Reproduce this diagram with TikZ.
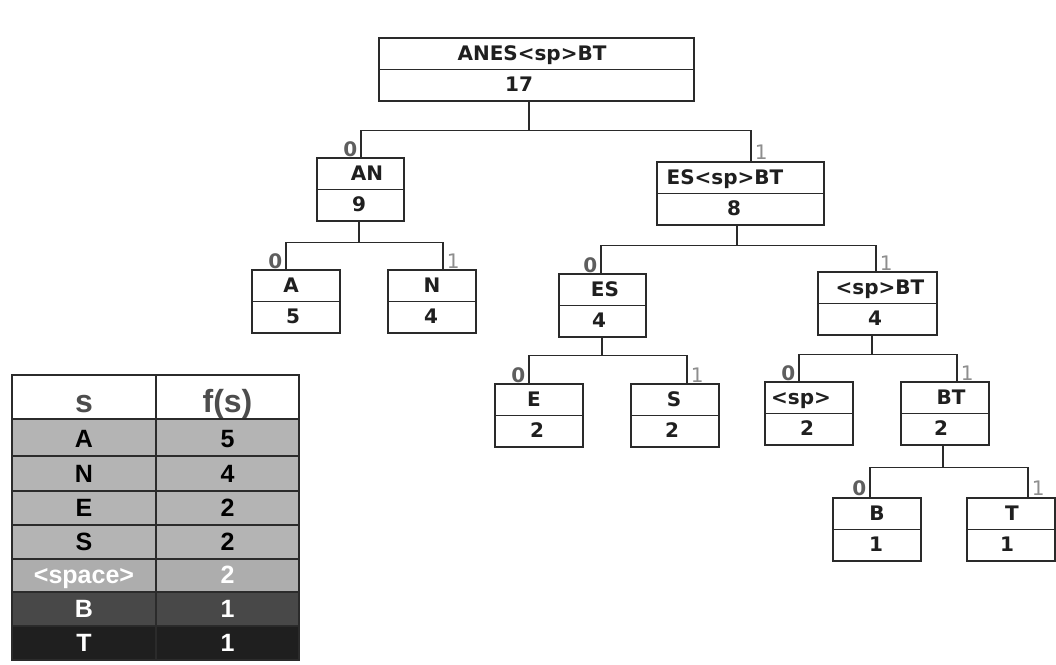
\documentclass[tikz,border=0pt]{standalone}
\usepackage{fontspec}
\newfontfamily\treefont{DejaVu Sans}
\newfontfamily\tabfont{Liberation Sans}

\definecolor{linegray}{HTML}{2A2A2A}
\definecolor{zerogray}{HTML}{5E5E5E}
\definecolor{onegray}{HTML}{8E8E8E}
\definecolor{rowlight}{HTML}{B4B4B4}
\definecolor{rowmid}{HTML}{ADADAD}
\definecolor{rowdark}{HTML}{484848}
\definecolor{rowblack}{HTML}{1F1F1F}
\definecolor{gridline}{HTML}{2B2B2B}
\definecolor{headtext}{HTML}{4D4D4D}

\tikzset{
  cell/.style={draw=linegray, line width=1.5pt, fill=white, inner sep=0pt,
               minimum height=63pt},
  link/.style={draw=linegray, line width=1.5pt},
  txt/.style={anchor=base, inner sep=0pt, text=black!88,
              font=\treefont\bfseries\fontsize{20}{20}\selectfont},
  bit0/.style={inner sep=3pt, text=zerogray,
               font=\treefont\bfseries\fontsize{20}{20}\selectfont},
  bit1/.style={inner sep=3pt, text=onegray,
               font=\treefont\fontsize{20}{20}\selectfont},
  gridrule/.style={draw=gridline, line width=1.6pt},
  headtxt/.style={anchor=base, inner sep=0pt, text=headtext,
                  font=\tabfont\bfseries\fontsize{32}{32}\selectfont},
  tabtxt/.style={anchor=base, inner sep=0pt,
                 font=\tabfont\bfseries\fontsize{25}{25}\selectfont},
}

% tree cell: name, centre x, top y, width, symbol text, its x, weight, its x
\newcommand\hcell[8]{%
  \node[cell, minimum width=#4pt, anchor=north] (#1) at (#2,#3) {};
  \draw[link] (#1.west) -- (#1.east);
  \node[txt] (#1-l) at (#6,{#3+23.5}) {#5};
  \node[txt] (#1-f) at (#8,{#3+54.5}) {#7};
}

% branching: parent, stem shift, drop, left child, shift, right child, shift
\newcommand\branch[7]{%
  \coordinate (#1-j) at ([xshift=#2pt,yshift=-#3pt]#1.south);
  \draw[link] ([xshift=#2pt]#1.south) -- (#1-j);
  \draw[link] ([xshift=#5pt]#4.north)
      |- node[bit0, pos=0.15, left] (#1-z) {0} (#1-j)
      -| node[bit1, pos=0.85, right] (#1-o) {1} ([xshift=#7pt]#6.north);
}

\begin{document}
\begin{tikzpicture}[x=1pt, y=-1pt]
  \fill[white] (0,0) rectangle (1056,664);
  \useasboundingbox (0,0) rectangle (1056,664);

  % Huffman tree
  \hcell{root}{536.5}{37}{315}{ANES<sp>BT}{532}{17}{519}
  \hcell{an}{360.5}{157}{87}{AN}{367}{9}{359}
  \hcell{esspbt}{740.5}{161}{167}{ES<sp>BT}{725}{8}{734}
  \hcell{a}{296}{269}{88}{A}{291}{5}{293}
  \hcell{n}{432}{269}{88}{N}{432}{4}{431}
  \hcell{es}{602.5}{273}{87}{ES}{605}{4}{599}
  \hcell{spbt}{877.5}{271}{119}{<sp>BT}{880}{4}{875}
  \hcell{e}{539}{383}{88}{E}{534}{2}{537}
  \hcell{s}{675}{383}{88}{S}{674}{2}{672}
  \hcell{sp}{809}{381}{88}{<sp>}{801}{2}{807}
  \hcell{bt}{945}{381}{88}{BT}{951}{2}{941}
  \hcell{b}{877}{497}{88}{B}{877}{1}{876}
  \hcell{t}{1011}{497}{88}{T}{1012}{1}{1007}

  \branch{root}{-7.5}{29}{an}{0.5}{esspbt}{10.5}
  \branch{an}{-1.5}{21}{a}{-10}{n}{11}
  \branch{esspbt}{-3.5}{20}{es}{-1.5}{spbt}{-1.5}
  \branch{es}{-0.5}{18}{e}{-10}{s}{12}
  \branch{spbt}{-5.5}{19}{sp}{-10}{bt}{12}
  \branch{bt}{-2}{22}{b}{-7}{t}{17}

  % frequency table
  \fill[white] (12,375) rectangle (299,419);
  \node[headtxt] (hs) at (84,412) {s};
  \node[headtxt] (hf) at (227.5,412) {f(s)};
  \foreach \sym/\frq/\bg/\fg/\ya/\yb [count=\i] in {
      A/5/rowlight/black/419/456,
      N/4/rowlight/black/456/491,
      E/2/rowlight/black/491/525,
      S/2/rowlight/black/525/559,
      <space>/2/rowmid/white/559/592,
      B/1/rowdark/white/592/626,
      T/1/rowblack/white/626/660} {
    \fill[\bg] (12,\ya) rectangle (299,\yb);
    \node[tabtxt, text=\fg] (s-\i) at (84,{\yb-8.5}) {\sym};
    \node[tabtxt, text=\fg] (f-\i) at (227.5,{\yb-8.5}) {\frq};
    \draw[gridrule] (12,\ya) -- (299,\ya);
  }
  \draw[gridrule] (12,375) rectangle (299,660);
  \draw[gridrule] (156,375) -- (156,660);
\end{tikzpicture}
\end{document}
